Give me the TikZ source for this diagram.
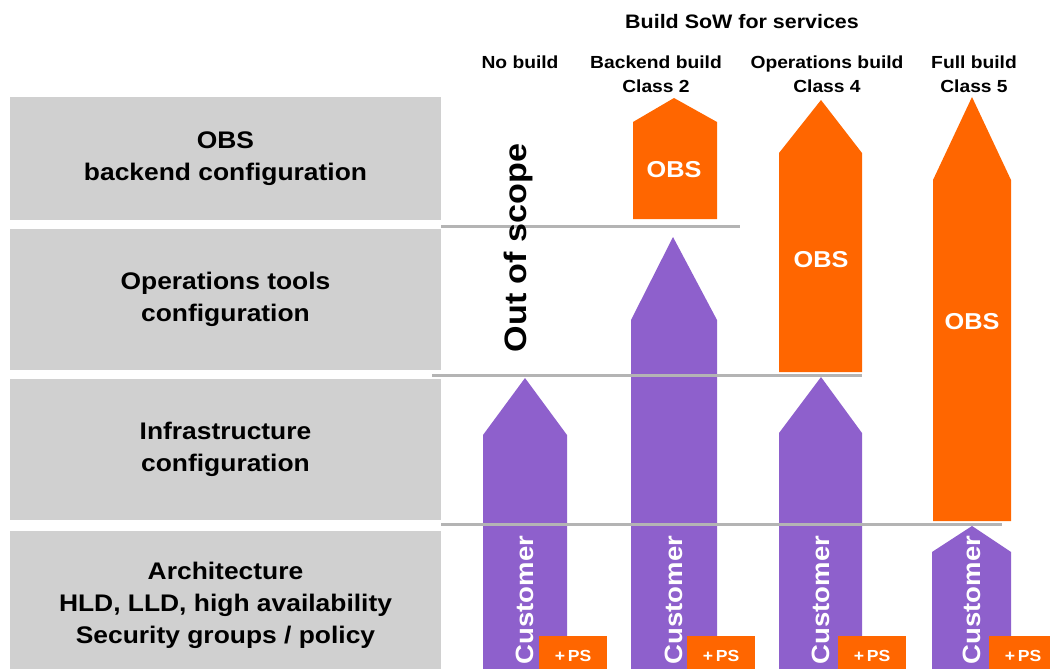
\documentclass[tikz,border=0pt]{standalone}
\usepackage{fontspec}
\setmainfont{Liberation Sans}[FakeStretch=1.1]
\definecolor{obsorange}{HTML}{FF6600}
\definecolor{custpurple}{HTML}{8E60CC}
\definecolor{rowgrey}{HTML}{D0D0D0}
\definecolor{rulegrey}{HTML}{B4B4B4}

\begin{document}
\begin{tikzpicture}[x=1pt, y=-1pt,
		rowbox/.style={fill=rowgrey, minimum width=431pt, inner sep=0pt, align=center, font=\fontsize{24}{32}\selectfont\bfseries},
		header/.style={align=center, font=\fontsize{17.5}{24}\selectfont\bfseries},
		obslabel/.style={text=white, font=\fontsize{23}{26}\selectfont\bfseries},
		custlabel/.style={text=white, rotate=90, font=\fontsize{25}{28}\selectfont\bfseries},
		psbox/.style={fill=obsorange, text=white, anchor=north west, minimum width=68pt, minimum height=40pt, inner sep=0pt, font=\fontsize{16}{18}\selectfont\bfseries},
		sepline/.style={rulegrey, line width=3pt}]
	\useasboundingbox (0, 0) rectangle (1050, 669);

	% headings
	\draw (742, 22) 	node[header, font=\fontsize{19.5}{24}\selectfont\bfseries] 	(title) 	{Build SoW for services};
	\draw (520, 62) 	node[header] 	(nobuild) 	{No build};
	\draw (656, 74) 	node[header] 	(backend) 	{Backend build\\Class 2};
	\draw (827, 74) 	node[header] 	(operations) 	{Operations build\\Class 4};
	\draw (974, 74) 	node[header] 	(full) 		{Full build\\Class 5};

	% rows on the left
	\draw (225.5, 158.5) 	node[rowbox, minimum height=123pt] 	(obsrow) 	{OBS\\backend configuration};
	\draw (225.5, 299.5) 	node[rowbox, minimum height=141pt] 	(opsrow) 	{Operations tools\\configuration};
	\draw (225.5, 449.5) 	node[rowbox, minimum height=141pt] 	(infrarow) 	{Infrastructure\\configuration};
	\draw (225.5, 605.5) 	node[rowbox, minimum height=149pt] 	(archrow) 	{Architecture\\HLD, LLD, high availability\\Security groups / policy};

	% orange OBS arrows
	\fill[obsorange] (633, 219) -- (633, 122) -- (674, 98) -- (717, 122) -- (717, 219) -- cycle;
	\fill[obsorange] (779, 372) -- (779, 153) -- (821, 100) -- (862, 153) -- (862, 372) -- cycle;
	\fill[obsorange] (933, 521) -- (933, 180) -- (972, 97) -- (1011, 180) -- (1011, 521) -- cycle;

	% purple customer arrows
	\fill[custpurple] (483, 680) -- (483, 435) -- (525, 378) -- (567, 435) -- (567, 680) -- cycle;
	\fill[custpurple] (631, 680) -- (631, 320) -- (673, 237) -- (717, 320) -- (717, 680) -- cycle;
	\fill[custpurple] (779, 680) -- (779, 433) -- (821, 377) -- (862, 433) -- (862, 680) -- cycle;
	\fill[custpurple] (932, 680) -- (932, 552) -- (972, 526) -- (1011, 552) -- (1011, 680) -- cycle;

	% separators
	\draw[sepline] (441, 226) -- (740, 226);
	\draw[sepline] (432, 375) -- (862, 375);
	\draw[sepline] (441, 524) -- (1002, 524);

	\draw (674, 170) 	node[obslabel] 	(obs2) 	{OBS};
	\draw (821, 260) 	node[obslabel] 	(obs4) 	{OBS};
	\draw (972, 322) 	node[obslabel] 	(obs5) 	{OBS};

	\draw (518, 248) 	node[rotate=90, font=\fontsize{31}{36}\selectfont\bfseries] 	(scope) 	{Out of scope};

	\draw (525, 600) 	node[custlabel] 	(cust1) 	{Customer};
	\draw (674, 600) 	node[custlabel] 	(cust2) 	{Customer};
	\draw (821, 600) 	node[custlabel] 	(cust4) 	{Customer};
	\draw (972, 600) 	node[custlabel] 	(cust5) 	{Customer};

	\draw (539, 636) 	node[psbox] 	(ps1) 	{+\,PS};
	\draw (687, 636) 	node[psbox] 	(ps2) 	{+\,PS};
	\draw (838, 636) 	node[psbox] 	(ps4) 	{+\,PS};
	\draw (989, 636) 	node[psbox] 	(ps5) 	{+\,PS};
\end{tikzpicture}
\end{document}
